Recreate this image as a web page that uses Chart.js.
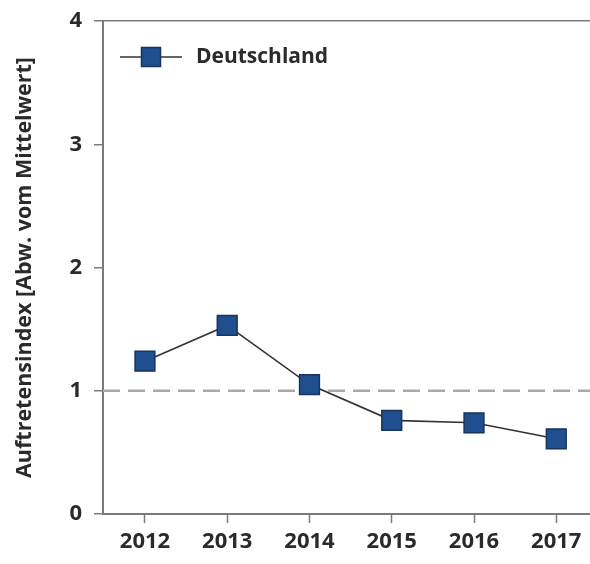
<!DOCTYPE html>
<html>
<head>
<meta charset="utf-8">
<script src="https://cdn.jsdelivr.net/npm/chart.js@4"></script>
<style>
  html, body { margin: 0; padding: 0; background: #fff; }
  #wrap { width: 590px; height: 564px; }
</style>
</head>
<body>
<div id="wrap"><canvas id="chart" width="590" height="564"></canvas></div>
<script>
// data
let years = [2012, 2013, 2014, 2015, 2016, 2017];
let indexValues = [1.24, 1.53, 1.05, 0.76, 0.74, 0.61];
let yTicks = [0, 1, 2, 3, 4];
let seriesName = 'Deutschland';
let referenceValue = 1;

let axisGrey = '#7a7a7a';
let textCol = '#2a2a2a';
let fontFam = '"Open Sans", "Noto Sans", sans-serif';

// grey dashed line at the mean (1)
let refLine = {
  id: 'refLine',
  beforeDatasetsDraw(chart) {
    let ctx = chart.ctx, area = chart.chartArea;
    let y = chart.scales.y.getPixelForValue(referenceValue);
    ctx.save();
    ctx.strokeStyle = '#a9a9a9';
    ctx.lineWidth = 2.5;
    ctx.setLineDash([17, 8]);
    ctx.beginPath();
    ctx.moveTo(area.left, y);
    ctx.lineTo(area.right, y);
    ctx.stroke();
    ctx.restore();
  }
};

// legend drawn inside the plot: line + square + label
let innerLegend = {
  id: 'innerLegend',
  afterDraw(chart) {
    let ctx = chart.ctx;
    let ds = chart.data.datasets[0];
    let x0 = 120, x1 = 182, y = 57;
    ctx.save();
    ctx.strokeStyle = ds.borderColor;
    ctx.lineWidth = ds.borderWidth;
    ctx.beginPath();
    ctx.moveTo(x0, y);
    ctx.lineTo(x1, y);
    ctx.stroke();
    let s = 19;
    ctx.fillStyle = ds.pointBackgroundColor;
    ctx.strokeStyle = ds.pointBorderColor;
    ctx.lineWidth = ds.pointBorderWidth;
    ctx.fillRect((x0 + x1) / 2 - s / 2, y - s / 2, s, s);
    ctx.strokeRect((x0 + x1) / 2 - s / 2, y - s / 2, s, s);
    ctx.fillStyle = textCol;
    ctx.font = 'bold 21px ' + fontFam;
    ctx.textBaseline = 'middle';
    ctx.fillText(ds.label, 196, y);
    ctx.restore();
  }
};

let chartData = {
  datasets: [{
    label: seriesName,
    data: years.map((yr, i) => ({ x: yr, y: indexValues[i] })),
    borderColor: '#333333',
    borderWidth: 1.6,
    pointStyle: 'rect',
    pointRadius: 14,
    pointHoverRadius: 14,
    pointBackgroundColor: '#1f4f8e',
    pointBorderColor: '#16345c',
    pointBorderWidth: 1.5,
    tension: 0,
    fill: false
  }]
};

let chartOptions = {
  responsive: false,
  animation: false,
  layout: { autoPadding: false, padding: { top: 21, right: 0, left: 0, bottom: 0 } },
  plugins: {
    legend: { display: false },
    tooltip: { enabled: false }
  },
  scales: {
    x: {
      type: 'linear',
      min: 2011.49,
      max: 2017.41,
      afterBuildTicks(scale) {
        scale.ticks = years.map(v => ({ value: v }));
      },
      afterFit(scale) {
        scale.height = 50;
        scale.paddingLeft = 0;
        scale.paddingRight = 0;
      },
      ticks: {
        color: textCol,
        font: { family: fontFam, size: 22, weight: 'bold' },
        padding: 6,
        maxRotation: 0,
        callback: v => String(v)
      },
      grid: {
        drawOnChartArea: false,
        drawTicks: true,
        tickLength: 9,
        tickColor: axisGrey,
        tickWidth: 1.5
      },
      border: { color: axisGrey, width: 2 }
    },
    y: {
      min: 0,
      max: 4,
      afterBuildTicks(scale) {
        scale.ticks = yTicks.map(v => ({ value: v }));
      },
      afterFit(scale) {
        scale.width = 103;
        scale.paddingTop = 0;
        scale.paddingBottom = 0;
      },
      ticks: {
        color: textCol,
        font: { family: fontFam, size: 22, weight: 'bold' },
        padding: 12
      },
      grid: {
        color: c => (c.tick && c.tick.value === 4) ? axisGrey : 'rgba(0,0,0,0)',
        lineWidth: 1.5,
        tickLength: 9,
        tickColor: axisGrey,
        tickWidth: 1.5
      },
      border: { color: axisGrey, width: 2 },
      title: {
        display: true,
        text: 'Auftretensindex [Abw. vom Mittelwert]',
        color: textCol,
        font: { family: fontFam, size: 21.5, weight: 'bold' },
        padding: { top: 12, bottom: 0 }
      }
    }
  }
};

let myChart = new Chart(document.getElementById('chart'), {
  type: 'line',
  data: chartData,
  options: chartOptions,
  plugins: [refLine, innerLegend]
});
</script>
</body>
</html>
